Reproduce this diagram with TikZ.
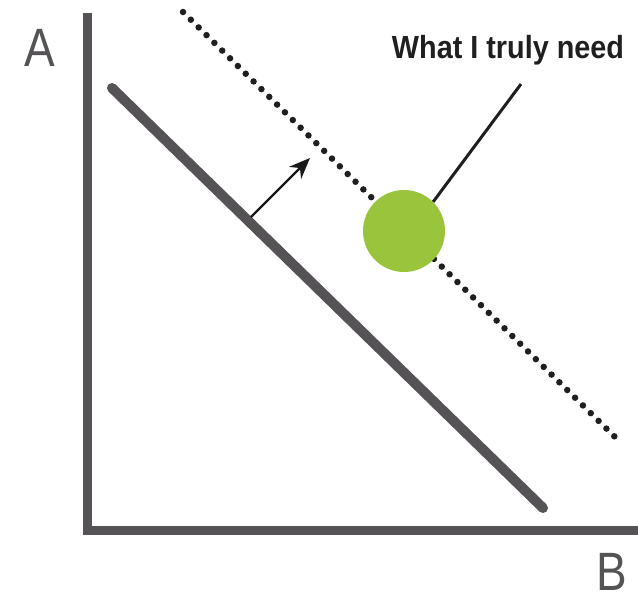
\documentclass[tikz,border=0pt]{standalone}
\usepackage{fontspec}
\setmainfont{Liberation Sans}
\newfontfamily\handfont[FakeStretch=0.9]{Liberation Sans}
\newfontfamily\axisfont[FakeStretch=0.85]{Liberation Sans}
\usetikzlibrary{arrows.meta}
\definecolor{axisgray}{HTML}{555355}
\definecolor{needgreen}{HTML}{9AC43C}
\begin{document}
\begin{tikzpicture}[x=1pt,y=-1pt,
  axis/.style={draw=axisgray,line width=9pt},
  budget/.style={draw=axisgray,line width=10pt,line cap=round},
  dotline/.style={draw=black!88,line width=6.5pt,line cap=round,dash pattern=on 0pt off 11pt},
  shift arrow/.style={draw=black!90,line width=2.2pt,-{Stealth[length=21pt,width=17pt]}},
  pointer/.style={draw=black!88,line width=3pt},
  axislabel/.style={text=axisgray,inner sep=0pt,anchor=base,font=\axisfont\fontsize{54}{54}\selectfont},
  needlabel/.style={text=black!88,font=\handfont\bfseries\fontsize{32}{32}\selectfont}]
\useasboundingbox (0,0) rectangle (638,603);
% axes
\coordinate (ytop) at (87,13);
\coordinate (origin) at (87,530);
\coordinate (xend) at (638,530);
\draw[axis] (ytop) -- (origin) -- (xend);
\node[axislabel] (A) at (40,66) {A};
\node[axislabel] (B) at (612,590) {B};
% budget line
\coordinate (b1) at (112,88);
\coordinate (b2) at (543,508);
\draw[budget] (b1) -- (b2);
% dotted shifted line
\coordinate (d1) at (183,12);
\coordinate (d2) at (615,437);
\draw[dotline] (d1) -- (d2);
% shift arrow
\coordinate (a1) at (251,217);
\coordinate (a2) at (310,158);
\draw[shift arrow] (a1) -- (a2);
% green point
\node[circle,fill=needgreen,minimum size=82pt,inner sep=0pt] (need) at (404,231) {};
% label
\node[needlabel] (lbl) at (508,50) {What I truly need};
\coordinate (p1) at (521,84);
\draw[pointer] (p1) -- (need.north east);
\end{tikzpicture}
\end{document}
